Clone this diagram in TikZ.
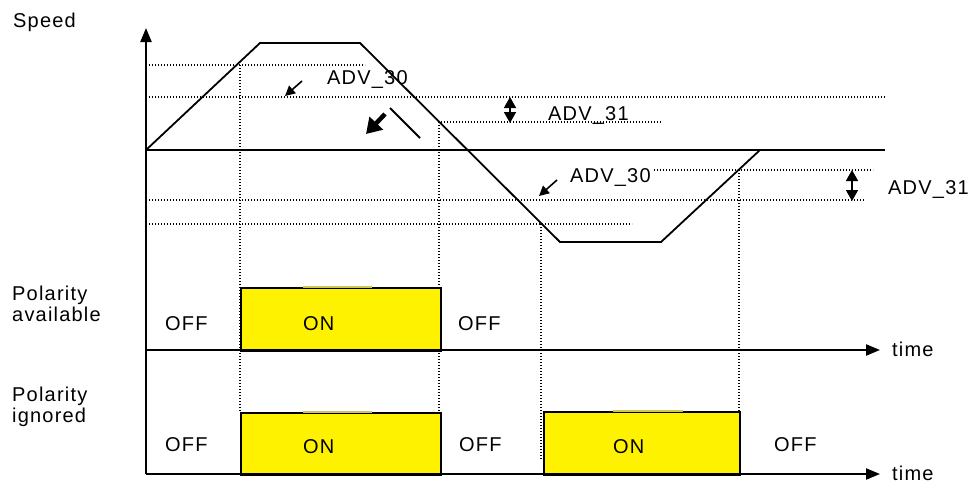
\documentclass[tikz,border=0pt]{standalone}
\usepackage{fontspec}
\setmainfont{Liberation Sans}[LetterSpace=6]
\usetikzlibrary{arrows.meta}
\begin{document}
\begin{tikzpicture}[x=1pt,y=-1pt,
  txt/.style={font=\fontsize{20}{20.5}\selectfont, inner sep=0pt},
  axisline/.style={line width=2.2pt, -{Triangle[length=14pt,width=11pt]}},
  curve/.style={line width=1.8pt, line join=miter},
  dots/.style={line width=1.5pt, dash pattern=on 1.4pt off 1.6pt, black},
  onbox/.style={fill=yellow, draw=black, line width=1.8pt},
  gapedge/.style={draw=yellow!55!gray, line width=1.2pt},
  smallarrow/.style={line width=1.6pt, -{Triangle[length=10pt,width=10pt]}},
  boldarrow/.style={line width=4.5pt, -{Triangle[length=15pt,width=18pt]}},
  dblarrow/.style={line width=1.6pt, {Triangle[length=11pt,width=12pt]}-{Triangle[length=11pt,width=12pt]}}
]
\useasboundingbox (0,0) rectangle (972,485);

% coordinates
\coordinate (o) at (146,150);
\coordinate (ytop) at (146,28);
\coordinate (ybot) at (146,474);
\coordinate (zend) at (885,150);
\coordinate (pa0) at (146,350);
\coordinate (pa1) at (880,350);
\coordinate (pi0) at (146,474);
\coordinate (pi1) at (880,474);

% dotted helper lines
\draw[dots] (146,65) -- (365,65);
\draw[dots] (146,97) -- (885,97);
\draw[dots] (438,122) -- (662,122);
\draw[dots] (654,170) -- (873,170);
\draw[dots] (146,200) -- (865,200);
\draw[dots] (146,224) -- (632,224);
\draw[dots] (240,65) -- (240,412);
\draw[dots] (439,122) -- (439,470);
\draw[dots] (541,224) -- (541,460);
\draw[dots] (739,170) -- (739,412);

% ON boxes
\node[onbox, minimum width=200pt, minimum height=63pt, inner sep=0pt, anchor=north west] (on1) at (240,287) {};
\node[onbox, minimum width=200pt, minimum height=62pt, inner sep=0pt, anchor=north west] (on2) at (240,412) {};
\node[onbox, minimum width=196pt, minimum height=63pt, inner sep=0pt, anchor=north west] (on3) at (543,411) {};
\draw[gapedge] (303,287) -- (372,287);
\draw[gapedge] (303,412) -- (372,412);
\draw[gapedge] (613,411) -- (683,411);

% axes
\draw[axisline] (ybot) -- (ytop);
\draw[line width=1.8pt] (o) -- (zend);
\draw[axisline] (pa0) -- (pa1);
\draw[axisline] (pi0) -- (pi1);

% speed profile
\draw[curve] (o) -- (260,43) -- (360,43) -- (560,242) -- (661,242) -- (760,150);

% arrows
\draw[smallarrow] (302,81) -- (285,96);
\draw[smallarrow] (557,180) -- (539,196);
\draw[boldarrow] (385,114) -- (366,134);
\draw[line width=1.8pt] (390,108) -- (420,138);
\draw[dblarrow] (510,97) -- (510,123);
\draw[dblarrow] (852,170) -- (852,201);

% labels
\node[txt, anchor=base west] (speed) at (13,27) {Speed};
\node[txt, anchor=north west, align=left] (pav) at (12,286) {Polarity\\available};
\node[txt, anchor=north west, align=left] (pig) at (12,387) {Polarity\\ignored};
\node[txt, anchor=base west] (adv30a) at (327,84) {ADV\_30};
\node[txt, anchor=base west] (adv31a) at (548,120) {ADV\_31};
\node[txt, anchor=base west] (adv30b) at (570,182) {ADV\_30};
\node[txt, anchor=base west] (adv31b) at (888,194) {ADV\_31};
\node[txt, anchor=base west] (off1) at (165,330) {OFF};
\node[txt, anchor=base west] (on1t) at (303,330) {ON};
\node[txt, anchor=base west] (off2) at (458,330) {OFF};
\node[txt, anchor=base west] (off3) at (165,451) {OFF};
\node[txt, anchor=base west] (on2t) at (303,453) {ON};
\node[txt, anchor=base west] (off4) at (459,451) {OFF};
\node[txt, anchor=base west] (on3t) at (613,453) {ON};
\node[txt, anchor=base west] (off5) at (774,451) {OFF};
\node[txt, anchor=base west] (time1) at (892,356) {time};
\node[txt, anchor=base west] (time2) at (892,480) {time};
\end{tikzpicture}
\end{document}
